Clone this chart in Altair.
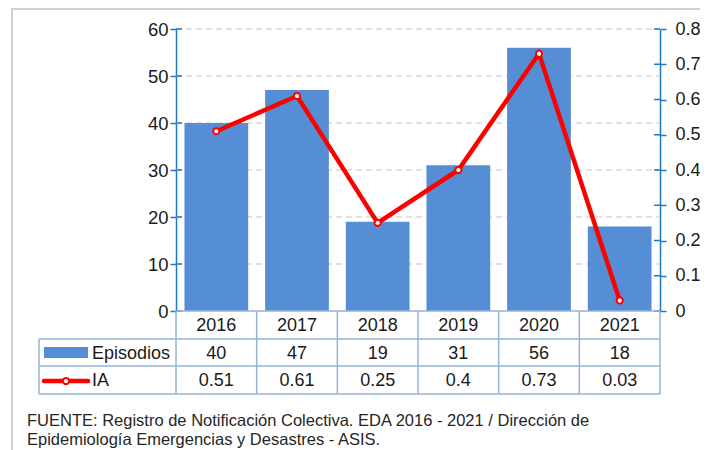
import altair as alt
import pandas as pd

years = ["2016", "2017", "2018", "2019", "2020", "2021"]
episodios = [40, 47, 19, 31, 56, 18]
ia = [0.51, 0.61, 0.25, 0.40, 0.73, 0.03]
ia_text = ["0.51", "0.61", "0.25", "0.4", "0.73", "0.03"]
left_ticks = [0, 10, 20, 30, 40, 50, 60]
grid_vals = [10, 20, 30, 40, 50, 60]
right_ticks = [0, 0.1, 0.2, 0.3, 0.4, 0.5, 0.6, 0.7, 0.8]
footnote = [
    "FUENTE: Registro de Notificación Colectiva. EDA 2016 - 2021 / Dirección de",
    "Epidemiología Emergencias y Desastres  - ASIS.",
]

W, H = 484, 282
FONT = "Liberation Sans"
AXIS_BLUE = "#1F78C1"
TABLE_BLUE = "#95B3D7"
BAR = "#558ED5"
RED = "#FF0000"
TXT = "#1a1a1a"

df = pd.DataFrame({"year": years, "episodios": episodios, "ia": ia, "ia_text": ia_text})
one = pd.DataFrame({"a": [0]})

xscale = alt.Scale(paddingInner=0, paddingOuter=0)
X = alt.X("year:N", sort=years, scale=xscale, axis=None)
lscale = alt.Scale(domain=[0, 60], nice=False, zero=True)
rscale = alt.Scale(domain=[0, 0.8], nice=False, zero=True)

border = alt.Chart(one).mark_rect(fill=None, stroke="#D0D0D0", strokeWidth=2).encode(
    x=alt.value(-164), x2=alt.value(531), y=alt.value(-20), y2=alt.value(440)
)

grid = alt.Chart(pd.DataFrame({"v": grid_vals})).mark_rule(
    color="#D9D9D9", strokeWidth=1.5, strokeDash=[6, 4]
).encode(
    y=alt.Y("v:Q", scale=lscale, axis=None), x=alt.value(0), x2=alt.value(W)
)

bars = alt.Chart(df).mark_bar(color=BAR, width=alt.RelativeBandSize(0.79)).encode(
    x=X,
    y=alt.Y(
        "episodios:Q",
        scale=lscale,
        axis=alt.Axis(
            orient="left", values=left_ticks, title=None, grid=False,
            tickSize=6, tickColor=AXIS_BLUE, tickWidth=1.5,
            domainColor=AXIS_BLUE, domainWidth=1.5,
            labelFont=FONT, labelFontSize=18.5, labelColor=TXT, labelPadding=2,
        ),
    ),
)

line = alt.Chart(df).mark_line(color=RED, strokeWidth=4.5).encode(
    x=X,
    y=alt.Y(
        "ia:Q",
        scale=rscale,
        axis=alt.Axis(
            orient="right", values=right_ticks, title=None, grid=False, format=".1~f",
            tickSize=6, tickColor=AXIS_BLUE, tickWidth=1.5,
            domainColor=AXIS_BLUE, domainWidth=1.5,
            labelFont=FONT, labelFontSize=18, labelColor=TXT, labelPadding=9,
        ),
    ),
)

pts = alt.Chart(df).mark_circle(color="white", stroke=RED, strokeWidth=2, size=38, opacity=1).encode(
    x=X, y=alt.Y("ia:Q", scale=rscale, axis=None)
)

lt = alt.Chart(pd.DataFrame({"v": left_ticks})).mark_rule(color=AXIS_BLUE, strokeWidth=1.5).encode(
    y=alt.Y("v:Q", scale=lscale, axis=None), x=alt.value(0), x2=alt.value(6)
)
rt = alt.Chart(pd.DataFrame({"v": right_ticks})).mark_rule(color=AXIS_BLUE, strokeWidth=1.5).encode(
    y=alt.Y("v:Q", scale=rscale, axis=None), x=alt.value(W - 6), x2=alt.value(W)
)

# table geometry (pixels relative to plot origin)
T_LEFT = -137
R1, R2, R3 = 310, 337, 365


def hrule(y, x1, x2, color=TABLE_BLUE):
    return alt.Chart(one).mark_rule(color=color, strokeWidth=1.5).encode(
        x=alt.value(x1), x2=alt.value(x2), y=alt.value(y)
    )


def vrule_val(x, y1, y2):
    return alt.Chart(one).mark_rule(color=TABLE_BLUE, strokeWidth=1.5).encode(
        x=alt.value(x), y=alt.value(y1), y2=alt.value(y2)
    )


vrules = alt.Chart(df).mark_rule(color=TABLE_BLUE, strokeWidth=1.5).encode(
    x=alt.X("year:N", sort=years, scale=xscale, axis=None, bandPosition=0),
    y=alt.value(H), y2=alt.value(R3),
)

table_lines = [
    hrule(H, 0, W),
    hrule(R1, T_LEFT, W),
    hrule(R2, T_LEFT, W),
    hrule(R3, T_LEFT, W),
    vrule_val(W, H, R3),
    vrule_val(T_LEFT, R1, R3),
    vrules,
]

tstyle = dict(font=FONT, fontSize=18, color=TXT, baseline="middle")
year_txt = alt.Chart(df).mark_text(**tstyle).encode(x=X, y=alt.value((H + R1) / 2 + 1), text="year:N")
epi_txt = alt.Chart(df).mark_text(**tstyle).encode(x=X, y=alt.value((R1 + R2) / 2 + 1), text="episodios:Q")
ia_txt = alt.Chart(df).mark_text(**tstyle).encode(x=X, y=alt.value((R2 + R3) / 2 + 1), text="ia_text:N")

leg_epi = alt.Chart(one).mark_text(align="left", **tstyle).encode(
    x=alt.value(-84), y=alt.value((R1 + R2) / 2 + 1), text=alt.value("Episodios")
)
leg_ia = alt.Chart(one).mark_text(align="left", **tstyle).encode(
    x=alt.value(-84), y=alt.value((R2 + R3) / 2 + 1), text=alt.value("IA")
)
sw_bar = alt.Chart(one).mark_rect(color=BAR).encode(
    x=alt.value(-132), x2=alt.value(-88), y=alt.value(R1 + 8), y2=alt.value(R1 + 19)
)
sw_line = alt.Chart(one).mark_rule(color=RED, strokeWidth=4.5, strokeCap="round").encode(
    x=alt.value(-132), x2=alt.value(-88), y=alt.value((R2 + R3) / 2 + 1)
)
sw_pt = alt.Chart(one).mark_circle(color="white", stroke=RED, strokeWidth=2, size=38, opacity=1).encode(
    x=alt.value(-110), y=alt.value((R2 + R3) / 2 + 1)
)

foot = [
    alt.Chart(one).mark_text(align="left", baseline="middle", font=FONT, fontSize=16.5, color="#262626").encode(
        x=alt.value(-149), y=alt.value(392 + 19 * i), text=alt.value(t)
    )
    for i, t in enumerate(footnote)
]

chart = alt.layer(
    border, grid, bars, line, pts, lt, rt, *table_lines,
    year_txt, epi_txt, ia_txt, leg_epi, leg_ia, sw_bar, sw_line, sw_pt, *foot,
).resolve_scale(y="independent").properties(
    width=W, height=H,
    padding={"left": 168, "top": 21, "right": 40, "bottom": 139},
    autosize=alt.AutoSizeParams(type="none"),
).configure_view(stroke=None)

chart.save("out.html", embed_options={"renderer": "svg", "actions": False})
